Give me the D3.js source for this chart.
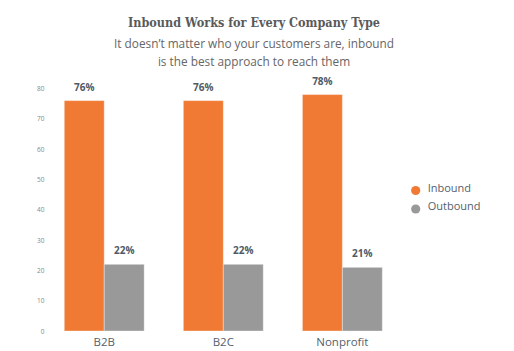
<!DOCTYPE html>
<html><head><meta charset="utf-8">
<script src="https://cdn.jsdelivr.net/npm/d3@7"></script>
<style>html,body{margin:0;padding:0;background:#fff;}svg{display:block;}</style>
</head><body>
<script>
const categories = ["B2B", "B2C", "Nonprofit"];
const seriesNames = ["Inbound", "Outbound"];
const inbound = [76, 76, 78];
const outbound = [22, 22, 21];
const yTicks = [0, 10, 20, 30, 40, 50, 60, 70, 80];
const colors = ["#F07A33", "#999999"];
const title = "Inbound Works for Every Company Type";
const subtitle = ["It doesn\u2019t matter who your customers are, inbound", "is the best approach to reach them"];

const W = 514, H = 351;
const svg = d3.select("body").append("svg").attr("width", W).attr("height", H);

const y = d3.scaleLinear().domain([0, 80]).range([331, 88.5]);
const x0 = d3.scaleBand().domain(categories).range([44.7, 401.9]).paddingInner(0.329).paddingOuter(0.1645);
const x1 = d3.scaleBand().domain(seriesNames).range([0, x0.bandwidth()]);
const color = d3.scaleOrdinal().domain(seriesNames).range(colors);

// title
svg.append("text").attr("x", 254).attr("y", 27).attr("text-anchor", "middle")
  .attr("font-family", "'DejaVu Serif', serif").attr("font-weight", "bold")
  .attr("font-size", 12.5).attr("fill", "#5a5a5a").attr("textLength", 252).attr("lengthAdjust", "spacingAndGlyphs")
  .text(title);
svg.selectAll(".sub").data(subtitle).enter().append("text")
  .attr("x", 254).attr("y", (d, i) => 48 + i * 17.5).attr("text-anchor", "middle")
  .attr("font-family", "'Open Sans', sans-serif").attr("font-size", 11.8).attr("fill", "#666")
  .text(d => d);

// y axis
const yAxis = d3.axisLeft(y).tickValues(yTicks).tickSize(0).tickPadding(0);
const ga = svg.append("g").attr("transform", "translate(44.5,0)").call(yAxis);
ga.select(".domain").remove();
ga.selectAll("text").attr("font-family", "'Open Sans', sans-serif").attr("font-size", 6.5).attr("fill", "#888");

// bars
const data = categories.map((c, i) => ({cat: c, vals: [
  {key: "Inbound", v: inbound[i]}, {key: "Outbound", v: outbound[i]}]}));
const groups = svg.selectAll(".grp").data(data).enter().append("g")
  .attr("transform", d => `translate(${x0(d.cat)},0)`);
groups.selectAll("rect").data(d => d.vals).enter().append("rect")
  .attr("x", d => x1(d.key)).attr("width", x1.bandwidth())
  .attr("y", d => y(d.v)).attr("height", d => y(0) - y(d.v))
  .attr("fill", d => color(d.key))
  .attr("stroke", "rgba(255,255,255,0.35)").attr("stroke-width", 1);
groups.selectAll(".lbl").data(d => d.vals).enter().append("text")
  .attr("x", d => x1(d.key) + x1.bandwidth() / 2).attr("y", d => y(d.v) - 10)
  .attr("text-anchor", "middle").attr("font-family", "'Open Sans', sans-serif")
  .attr("font-weight", "bold").attr("font-size", 10).attr("fill", "#505a66")
  .text(d => d.v + "%");

// x axis labels
const xAxis = d3.axisBottom(x0).tickSize(0).tickPadding(0);
const gx = svg.append("g").attr("transform", "translate(0,331)").call(xAxis);
gx.select(".domain").remove();
gx.selectAll("text").attr("dy", 0).attr("y", 15).attr("font-family", "'Open Sans', sans-serif")
  .attr("font-size", 11.5).attr("fill", "#555f6b");

// legend
const leg = svg.selectAll(".leg").data(seriesNames).enter().append("g")
  .attr("transform", (d, i) => `translate(415.7,${190.5 + i * 18.5})`);
leg.append("circle").attr("r", 4.6).attr("fill", d => color(d));
leg.append("text").attr("x", 12).attr("y", 0).attr("dy", "0.1em")
  .attr("font-family", "'Open Sans', sans-serif").attr("font-size", 11).attr("fill", "#555f6b")
  .text(d => d);
</script>
</body></html>
